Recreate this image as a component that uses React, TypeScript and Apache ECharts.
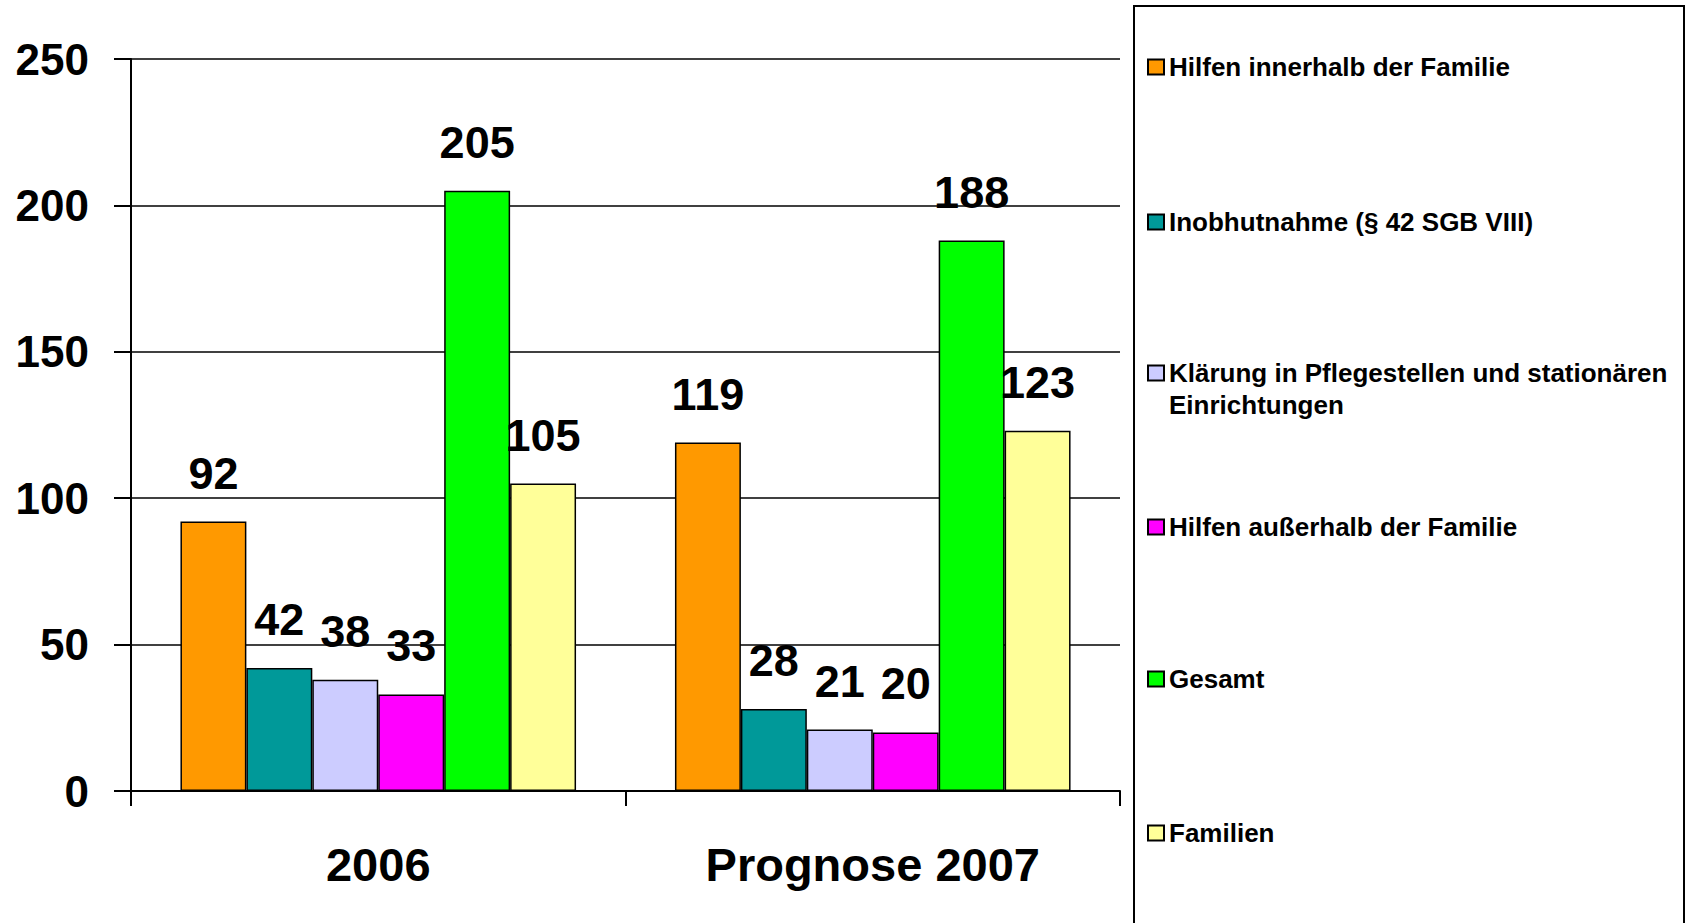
import React, { useEffect, useRef } from "react";
import * as echarts from "echarts";

const categories = ["2006", "Prognose 2007"];
const seriesNames = [
  "Hilfen innerhalb der Familie",
  "Inobhutnahme (§ 42 SGB VIII)",
  "Klärung in Pflegestellen und stationären Einrichtungen",
  "Hilfen außerhalb der Familie",
  "Gesamt",
  "Familien",
];
const hilfenInnerhalb = [92, 119];
const inobhutnahme = [42, 28];
const klaerung = [38, 21];
const hilfenAusserhalb = [33, 20];
const gesamt = [205, 188];
const familien = [105, 123];
const seriesValues = [hilfenInnerhalb, inobhutnahme, klaerung, hilfenAusserhalb, gesamt, familien];
const seriesColors = ["#FF9900", "#009999", "#CCCCFF", "#FF00FF", "#00FF00", "#FFFF99"];
const yTicks = { min: 0, max: 250, interval: 50 };

const FONT = "'Liberation Sans', Arial, Helvetica, sans-serif";
const legendCenters = [67, 222, 373, 527, 679, 833];

export default function App() {
  const ref = useRef<HTMLDivElement>(null);
  useEffect(() => {
    if (!ref.current) return;
    const chart = echarts.init(ref.current, null, { renderer: "svg" });
    const series = seriesNames.map((name, i) => ({
      name,
      type: "bar",
      data: seriesValues[i],
      barGap: "0%",
      barCategoryGap: "20%",
      itemStyle: { color: seriesColors[i], borderColor: "#000", borderWidth: 1.5 },
      label: {
        show: true,
        position: "top",
        distance: 26,
        fontSize: 45,
        fontWeight: "bold",
        fontFamily: FONT,
        color: "#000",
      },
    }));
    const legends = seriesNames.map((name, i) => {
      const twoLine = i === 2;
      return {
        data: [name],
        orient: "vertical",
        left: 1147,
        top: twoLine ? legendCenters[i] - 48 : legendCenters[i] - 15,
        padding: 0,
        itemWidth: 16,
        itemHeight: 15,
        icon: "rect",
        selectedMode: false,
        formatter: twoLine
          ? () => "\nKlärung in Pflegestellen und stationären\nEinrichtungen"
          : undefined,
        textStyle: {
          fontSize: 26,
          fontWeight: "bold",
          fontFamily: FONT,
          color: "#000",
          lineHeight: twoLine ? 32 : 30,
        },
      };
    });
    chart.setOption({
      animation: false,
      backgroundColor: "#fff",
      graphic: [
        {
          type: "rect",
          shape: { x: 1134, y: 6, width: 550, height: 960 },
          style: { fill: "none", stroke: "#000", lineWidth: 2 },
          z: -1,
        },
      ],
      legend: legends,
      grid: { left: 131, right: 568, top: 59, bottom: 132, containLabel: false },
      xAxis: {
        type: "category",
        data: categories,
        axisLine: { show: true, lineStyle: { color: "#000", width: 2 } },
        axisTick: { show: true, length: 15, lineStyle: { color: "#000", width: 2 } },
        axisLabel: {
          fontSize: 47,
          fontWeight: "bold",
          fontFamily: FONT,
          color: "#000",
          margin: 50,
        },
      },
      yAxis: {
        type: "value",
        min: yTicks.min,
        max: yTicks.max,
        interval: yTicks.interval,
        axisLine: { show: true, lineStyle: { color: "#000", width: 2 } },
        axisTick: { show: true, length: 17, lineStyle: { color: "#000", width: 2 } },
        splitLine: { show: true, lineStyle: { color: "#000", width: 1.5 } },
        axisLabel: {
          fontSize: 44,
          fontWeight: "bold",
          fontFamily: FONT,
          color: "#000",
          margin: 42,
        },
      },
      series,
    });
    return () => chart.dispose();
  }, []);
  return (
    <div
      ref={ref}
      style={{ position: "fixed", left: 0, top: 0, width: 1688, height: 923, background: "#fff" }}
    />
  );
}
